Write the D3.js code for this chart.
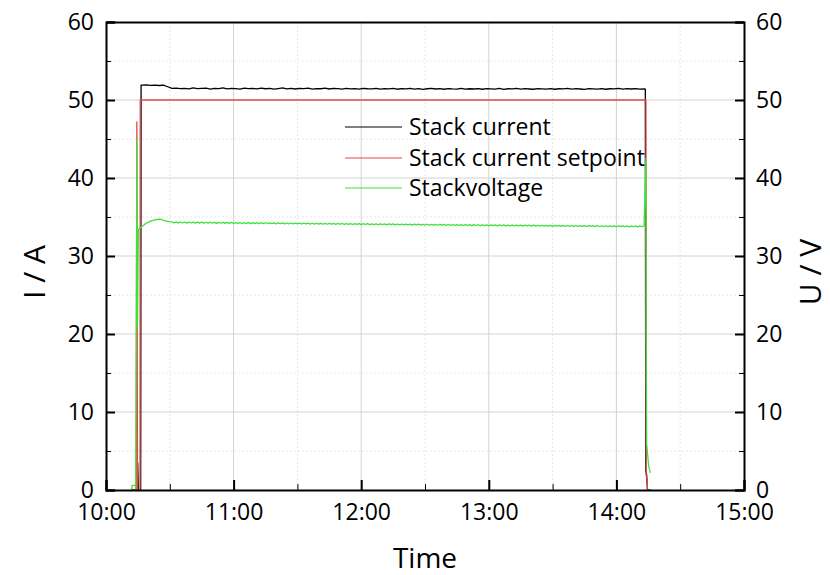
<!DOCTYPE html>
<html>
<head>
<meta charset="utf-8">
<script src="https://cdn.jsdelivr.net/npm/d3@7"></script>
<style>
html,body{margin:0;padding:0;background:#fff;}
svg{display:block;}
text{font-family:"Open Sans","Noto Sans",sans-serif;fill:#000;}
</style>
</head>
<body>
<svg id="chart" width="830" height="575"></svg>
<script>
// ---------- DATA (time in minutes after 10:00) ----------
const timeTickMinutes = [0, 60, 120, 180, 240, 300];
const timeTickLabels = ["10:00", "11:00", "12:00", "13:00", "14:00", "15:00"];
const yTicks = [0, 10, 20, 30, 40, 50, 60];
const seriesNames = ["Stack current", "Stack current setpoint", "Stackvoltage"];

// Stack current: start transient, 2-minute samples (t = 17, 19, ..., 253), end transient
const currentStartT = [12, 14.6, 14.9, 15.2, 16.3, 16.5];
const currentStartV = [0, 0, 3.5, 0, 0, 51.9];
const currentSteady = [
  51.9,51.95,51.88,51.92,51.86,51.9,51.7,51.48,51.52,51.45,
  51.5,51.42,51.55,51.45,51.48,51.52,51.4,51.5,51.45,51.55,
  51.42,51.5,51.47,51.4,51.53,51.45,51.48,51.42,51.52,51.44,
  51.5,51.4,51.47,51.55,51.43,51.48,51.41,51.5,51.45,51.52,
  51.4,51.47,51.44,51.52,51.41,51.48,51.45,51.4,51.5,51.43,
  51.47,51.39,51.5,51.44,51.42,51.49,51.4,51.46,51.43,51.5,
  51.38,51.45,51.42,51.48,51.4,51.46,51.37,51.44,51.49,51.41,
  51.45,51.38,51.47,51.42,51.4,51.5,51.39,51.44,51.41,51.47,
  51.38,51.45,51.43,51.4,51.48,51.37,51.44,51.42,51.49,51.39,
  51.45,51.41,51.38,51.47,51.43,51.4,51.46,51.38,51.44,51.42,
  51.48,51.39,51.45,51.41,51.37,51.46,51.43,51.4,51.47,51.38,
  51.44,51.42,51.48,51.39,51.45,51.41,51.46,51.4,51.43
];
const currentEndT = [253.6, 253.8, 254.2, 254.6, 256];
const currentEndV = [51.4, 2.5, 2.0, 0, 0];

// Setpoint
const setpointT = [12, 14.2, 14.5, 14.8, 16.0, 16.1, 253.9, 254.0, 254.4, 254.6, 256];
const setpointV = [0, 0, 47.2, 0, 0, 50, 50, 1.8, 1.5, 0, 0];

// Stack voltage: start transient, rise (t = 16..30), 1-minute samples (t = 31..253), end transient
const voltageStartT = [12, 12.3, 13.8, 14.0, 14.5, 14.8, 15.2];
const voltageStartV = [0, 0.6, 0.6, 0, 45, 21, 33.4];
const voltageRise = [33.55,33.8,34.02,34.2,34.35,34.47,34.56,34.63,34.68,34.72,34.7,34.58,34.5,34.45,34.4];
const voltageSteady = [
  34.38,34.25,34.37,34.24,34.36,34.23,34.36,34.22,34.35,34.23,
  34.35,34.21,34.34,34.22,34.34,34.2,34.33,34.21,34.33,34.2,
  34.32,34.19,34.32,34.2,34.31,34.18,34.3,34.19,34.3,34.17,
  34.29,34.18,34.29,34.16,34.28,34.17,34.28,34.16,34.27,34.15,
  34.27,34.16,34.26,34.14,34.26,34.15,34.25,34.14,34.25,34.13,
  34.24,34.14,34.24,34.12,34.23,34.13,34.23,34.11,34.22,34.12,
  34.22,34.1,34.21,34.11,34.21,34.09,34.2,34.1,34.2,34.08,
  34.19,34.09,34.19,34.07,34.18,34.08,34.18,34.06,34.17,34.07,
  34.17,34.05,34.16,34.06,34.16,34.04,34.15,34.05,34.15,34.03,
  34.14,34.04,34.14,34.02,34.13,34.03,34.13,34.01,34.12,34.02,
  34.12,34.0,34.11,34.01,34.11,33.99,34.1,34.0,34.1,33.98,
  34.09,33.99,34.09,33.97,34.08,33.98,34.08,33.96,34.07,33.97,
  34.07,33.95,34.06,33.96,34.06,33.94,34.05,33.95,34.05,33.93,
  34.04,33.94,34.04,33.92,34.03,33.93,34.03,33.91,34.02,33.92,
  34.02,33.9,34.01,33.91,34.01,33.89,34.0,33.9,34.0,33.88,
  33.99,33.89,33.99,33.87,33.98,33.88,33.98,33.86,33.97,33.87,
  33.97,33.85,33.96,33.86,33.96,33.84,33.95,33.85,33.95,33.83,
  33.95,33.84,33.94,33.83,33.94,33.82,33.93,33.83,33.93,33.81,
  33.93,33.82,33.92,33.8,33.92,33.81,33.91,33.8,33.91,33.79,
  33.91,33.8,33.9,33.79,33.9,33.78,33.89,33.79,33.89,33.77,
  33.89,33.78,33.88,33.77,33.88,33.76,33.87,33.77,33.87,33.75,
  33.87,33.76,33.86,33.75,33.86,33.74,33.85,33.75,33.85,33.74,
  33.86,33.75,33.85
];
const voltageEndT = [253.9, 254.0, 254.2, 255.2, 256.0];
const voltageEndV = [42.5, 20, 6, 3.0, 2.2];

// ---------- BUILD SERIES ----------
function zipT(ts, vs) { return ts.map((t, i) => [t, vs[i]]); }
const currentData = zipT(currentStartT, currentStartV)
  .concat(currentSteady.map((v, i) => [17 + 2 * i, v]))
  .concat(zipT(currentEndT, currentEndV));
const setpointData = zipT(setpointT, setpointV);
const voltageData = zipT(voltageStartT, voltageStartV)
  .concat(voltageRise.map((v, i) => [16 + i, v]))
  .concat(voltageSteady.map((v, i) => [31 + i, v]))
  .concat(zipT(voltageEndT, voltageEndV));

// ---------- LAYOUT ----------
const svg = d3.select("#chart");
const L = 106, R = 744, T = 22, B = 490;
const x = d3.scaleLinear().domain([0, 300]).range([L, R]);
const y = d3.scaleLinear().domain([0, 60]).range([B, T]);

// grid
const grid = svg.append("g");
d3.range(0, 301, 30).forEach(m => {
  if (m === 0 || m === 300) return;
  grid.append("line").attr("x1", x(m)).attr("x2", x(m)).attr("y1", T).attr("y2", B)
    .attr("stroke", m % 60 === 0 ? "#d2d2d2" : "#e6e6e6")
    .attr("stroke-width", 1)
    .attr("stroke-dasharray", m % 60 === 0 ? null : "2,2");
});
d3.range(5, 60, 5).forEach(v => {
  grid.append("line").attr("x1", L).attr("x2", R).attr("y1", y(v)).attr("y2", y(v))
    .attr("stroke", v % 10 === 0 ? "#d2d2d2" : "#e6e6e6")
    .attr("stroke-width", 1)
    .attr("stroke-dasharray", v % 10 === 0 ? null : "2,2");
});

// lines
const line = d3.line().x(d => x(d[0])).y(d => y(d[1]));
const colors = ["#000000", "#e34848", "#3ee03e"];
[currentData, setpointData, voltageData].forEach((data, i) => {
  svg.append("path").datum(data).attr("d", line)
    .attr("fill", "none").attr("stroke", colors[i]).attr("stroke-width", 1.3)
    .attr("stroke-linejoin", "round");
});

// axes
const fontSize = 23;
const yMinor = d3.range(5, 60, 10);
const xMinor = [30, 90, 150, 210, 270];

const leftAxis = svg.append("g").attr("transform", `translate(${L},0)`)
  .call(d3.axisLeft(y).tickValues(yTicks).tickSize(-9).tickPadding(12).tickFormat(d3.format("d")));
leftAxis.selectAll(".tick line").attr("stroke-width", 2);
const leftMinor = svg.append("g").attr("transform", `translate(${L},0)`)
  .call(d3.axisLeft(y).tickValues(yMinor).tickSize(-5).tickFormat(""));
leftMinor.select(".domain").remove();

const rightAxis = svg.append("g").attr("transform", `translate(${R},0)`)
  .call(d3.axisRight(y).tickValues(yTicks).tickSize(-9).tickPadding(12).tickFormat(d3.format("d")));
rightAxis.selectAll(".tick line").attr("stroke-width", 2);
const rightMinor = svg.append("g").attr("transform", `translate(${R},0)`)
  .call(d3.axisRight(y).tickValues(yMinor).tickSize(-5).tickFormat(""));
rightMinor.select(".domain").remove();

const bottomAxis = svg.append("g").attr("transform", `translate(0,${B})`)
  .call(d3.axisBottom(x).tickValues(timeTickMinutes).tickSize(-10).tickPadding(14)
    .tickFormat((d, i) => timeTickLabels[i]));
bottomAxis.selectAll(".tick line").attr("stroke-width", 2);
const bottomMinor = svg.append("g").attr("transform", `translate(0,${B})`)
  .call(d3.axisBottom(x).tickValues(xMinor).tickSize(-6).tickFormat(""));
bottomMinor.select(".domain").remove();

svg.append("g").attr("transform", `translate(0,${T})`)
  .call(d3.axisTop(x).tickValues([]).tickSizeOuter(0));

svg.selectAll(".domain").attr("stroke-width", 2).attr("stroke", "#000");
svg.selectAll(".tick text").attr("font-size", fontSize)
  .attr("font-family", "'Open Sans','Noto Sans',sans-serif").attr("fill", "#000");
svg.selectAll(".tick line").attr("stroke", "#000");

// axis titles
svg.append("text").attr("transform", "translate(45,272) rotate(-90)")
  .attr("text-anchor", "middle").attr("font-size", 30).text("I / A");
svg.append("text").attr("transform", "translate(821,272) rotate(-90)")
  .attr("text-anchor", "middle").attr("font-size", 30).text("U / V");
svg.append("text").attr("x", (L + R) / 2).attr("y", 568)
  .attr("text-anchor", "middle").attr("font-size", 28).text("Time");

// legend
const legendY = [127, 158, 188];
seriesNames.forEach((name, i) => {
  svg.append("line").attr("x1", 345).attr("x2", 402).attr("y1", legendY[i]).attr("y2", legendY[i])
    .attr("stroke", colors[i]).attr("stroke-width", 1.2);
  svg.append("text").attr("x", 409).attr("y", legendY[i] + 8).attr("font-size", fontSize).text(name);
});
</script>
</body>
</html>
